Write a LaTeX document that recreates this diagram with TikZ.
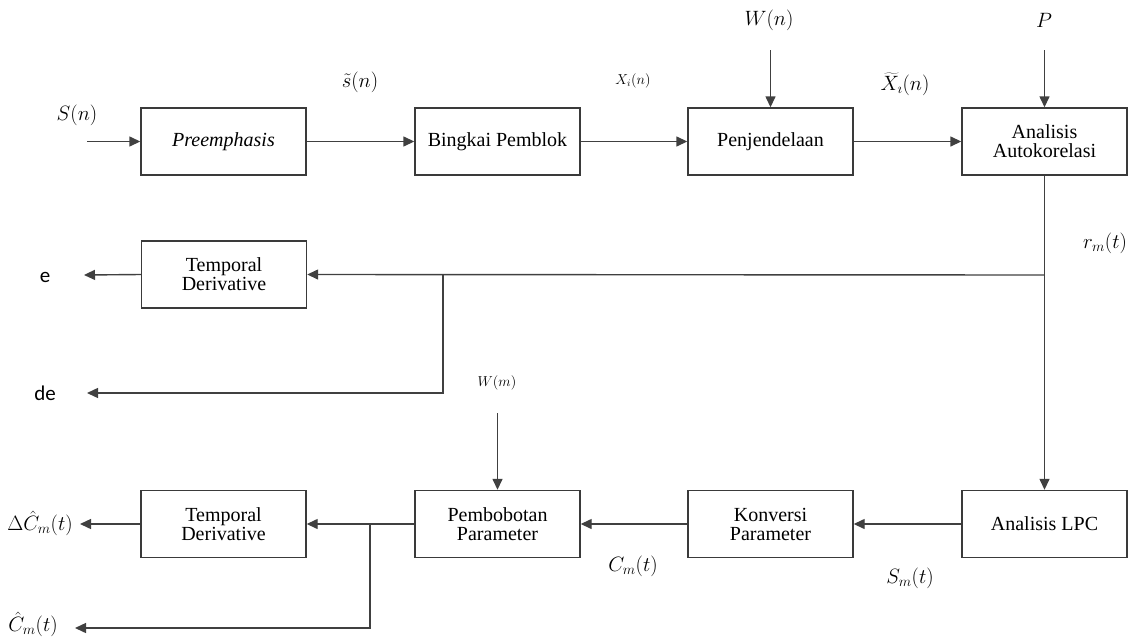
\documentclass[tikz,border=0pt]{standalone}
\usepackage{fontspec}
\setmainfont{Liberation Serif}
\newfontfamily\tms{Liberation Serif}
\newfontfamily\carl{Carlito}
\usetikzlibrary{arrows.meta,calc}
\definecolor{edge}{HTML}{3A3A3A}
\definecolor{wire}{HTML}{404040}
\begin{document}
\begin{tikzpicture}[x=1pt,y=-1pt,
  blk/.style={draw=edge,line width=1.4pt,minimum width=165pt,minimum height=67pt,align=center,font=\tms\fontsize{20}{22}\selectfont,inner sep=2pt},
  wirearrow/.style={draw=wire,line width=1.4pt,-{Triangle[length=11pt,width=10pt]}},
  lbl/.style={font=\fontsize{20.5}{22}\selectfont,inner sep=0pt},
  slbl/.style={font=\fontsize{14}{16}\selectfont,inner sep=0pt},
  sans/.style={font=\carl\fontsize{21}{23}\selectfont,inner sep=0pt}]
\useasboundingbox (0,0) rectangle (1129,637);
% top row
\node[blk] (pre) at (223.5,141.5) {\textit{Preemphasis}};
\node[blk] (bing) at (497.5,141.5) {Bingkai Pemblok};
\node[blk] (pen) at (770.5,141.5) {Penjendelaan};
\node[blk] (auto) at (1044.5,141.5) {Analisis\\[-3pt]Autokorelasi};
% middle
\node[blk] (td1) at (224,274.5) {Temporal\\[-3pt]Derivative};
% bottom row
\node[blk] (td2) at (223.5,524) {Temporal\\[-3pt]Derivative};
\node[blk] (pem) at (497.5,524) {Pembobotan\\[-3pt]Parameter};
\node[blk] (kon) at (770.5,524) {Konversi\\[-3pt]Parameter};
\node[blk] (lpc) at (1044.5,524) {Analisis LPC};
% labels
\node[lbl] (lSn) at (77,115) {$S(n)$};
\node[lbl] (lsn) at (360,82) {$\tilde{s}(n)$};
\node[slbl] (lXi) at (633,81) {$X_i(n)$};
\node[lbl] (lWn) at (769,20) {$W(n)$};
\node[lbl] (lXt) at (905,84) {$\widetilde{X}_{\imath}(n)$};
\node[lbl] (lP) at (1044,20) {$P$};
\node[lbl] (lrm) at (1105,243) {$r_m(t)$};
\node[sans] (le) at (45,277) {e};
\node[sans] (lde) at (45,393) {de};
\node[slbl] (lWm) at (497,383) {$W(m)$};
\node[lbl] (lDC) at (40,523) {$\Delta\hat{C}_m(t)$};
\node[lbl] (lC) at (33,624) {$\hat{C}_m(t)$};
\node[lbl] (lCm) at (633,566) {$C_m(t)$};
\node[lbl] (lSm) at (910,578) {$S_m(t)$};
% coordinates
\coordinate (in) at (87,141.5);
\coordinate (wn) at (770.5,50);
\coordinate (pp) at (1044.5,50);
\coordinate (j1) at (1044.5,275);
\coordinate (j2) at (443,275);
\coordinate (j2b) at (443,393);
\coordinate (oute) at (84,275);
\coordinate (outde) at (87,393);
\coordinate (wm) at (497.5,413);
\coordinate (j3) at (370,524);
\coordinate (j3b) at (370,628);
\coordinate (outdc) at (80,524);
\coordinate (outc) at (75,628);
% connectors
\draw[wirearrow] (in) -- (pre.west);
\draw[wirearrow] (pre.east) -- (bing.west);
\draw[wirearrow] (bing.east) -- (pen.west);
\draw[wirearrow] (pen.east) -- (auto.west);
\draw[wirearrow] (wn) -- (pen.north);
\draw[wirearrow] (pp) -- (auto.north);
\draw[wirearrow] (auto.south) -- (lpc.north);
\draw[wirearrow] (j1) -- (td1.east);
\draw[wirearrow] (td1.west) -- (oute);
\draw[wirearrow] (j2) -- (j2b) -- (outde);
\draw[wirearrow] (lpc.west) -- (kon.east);
\draw[wirearrow] (kon.west) -- (pem.east);
\draw[wirearrow] (pem.west) -- (td2.east);
\draw[wirearrow] (td2.west) -- (outdc);
\draw[wirearrow] (j3) -- (j3b) -- (outc);
\draw[wirearrow] (wm) -- (pem.north);
\end{tikzpicture}
\end{document}
